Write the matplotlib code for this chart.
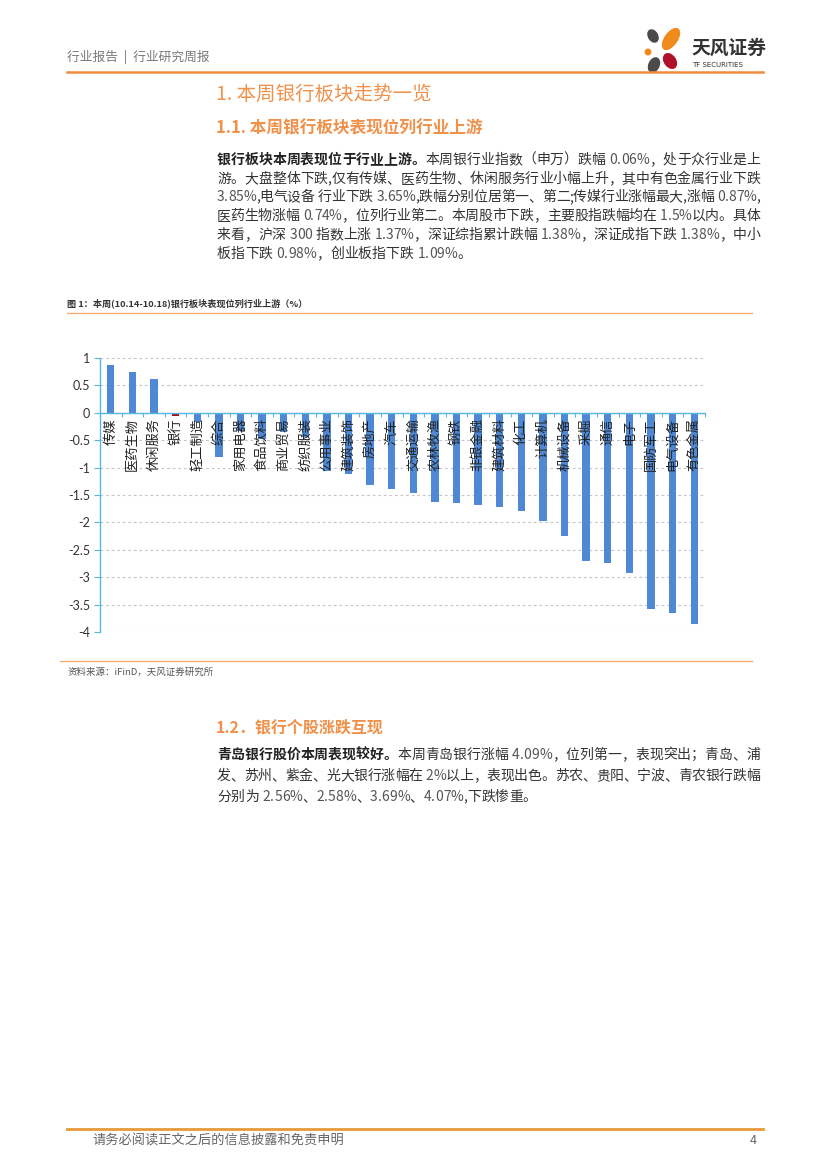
import matplotlib
matplotlib.use('Agg')
import matplotlib.pyplot as plt
from matplotlib.patches import Ellipse
from matplotlib.lines import Line2D

plt.rcParams['font.family'] = ['Noto Sans CJK SC', 'DejaVu Sans']

# ---------------- data ----------------
categories = ['传媒', '医药生物', '休闲服务', '银行', '轻工制造', '综合', '家用电器',
              '食品饮料', '商业贸易', '纺织服装', '公用事业', '建筑装饰', '房地产', '汽车',
              '交通运输', '农林牧渔', '钢铁', '非银金融', '建筑材料', '化工', '计算机',
              '机械设备', '采掘', '通信', '电子', '国防军工', '电气设备', '有色金属']
values = [0.87, 0.74, 0.62, -0.06, -0.16, -0.80, -0.34,
          -0.47, -0.35, -0.45, -1.06, -1.11, -1.31, -1.39,
          -1.47, -1.63, -1.65, -1.69, -1.71, -1.79, -1.98,
          -2.24, -2.71, -2.74, -2.92, -3.58, -3.65, -3.85]
highlight = '银行'
y_ticks = [1, 0.5, 0, -0.5, -1, -1.5, -2, -2.5, -3, -3.5, -4]
y_tick_labels = ['1', '0.5', '0', '-0.5', '-1', '-1.5', '-2', '-2.5', '-3', '-3.5', '-4']

header_text = '行业报告  |  行业研究周报'
title1 = '1. 本周银行板块走势一览'
title11 = '1.1. 本周银行板块表现位列行业上游'
para1 = [
    [('银行板块本周表现位于行业上游。', True), ('本周银行业指数（申万）跌幅 0.06%，处于众行业是上', False)],
    [('游。大盘整体下跌,仅有传媒、医药生物、休闲服务行业小幅上升，其中有色金属行业下跌', False)],
    [('3.85%,电气设备 行业下跌 3.65%,跌幅分别位居第一、第二;传媒行业涨幅最大,涨幅 0.87%,', False)],
    [('医药生物涨幅 0.74%，位列行业第二。本周股市下跌，主要股指跌幅均在 1.5%以内。具体', False)],
    [('来看，沪深 300 指数上涨 1.37%，深证综指累计跌幅 1.38%，深证成指下跌 1.38%，中小', False)],
    [('板指下跌 0.98%，创业板指下跌 1.09%。', False)],
]
caption = '图 1：本周(10.14-10.18)银行板块表现位列行业上游（%）'
source = '资料来源：iFinD，天风证券研究所'
title12 = '1.2．银行个股涨跌互现'
para2 = [
    [('青岛银行股价本周表现较好。', True), ('本周青岛银行涨幅 4.09%，位列第一，表现突出；青岛、浦', False)],
    [('发、苏州、紫金、光大银行涨幅在 2%以上，表现出色。苏农、贵阳、宁波、青农银行跌幅', False)],
    [('分别为 2.56%、2.58%、3.69%、4.07%,下跌惨重。', False)],
]
footer = '请务必阅读正文之后的信息披露和免责申明'
page_no = '4'

# ---------------- page ----------------
W, H = 827, 1169
fig = plt.figure(figsize=(W / 100, H / 100), dpi=100)
fig.patch.set_facecolor('white')


def fx(x):
    return x / W


def fy(y):
    return 1 - y / H


ORANGE = '#EE8B3D'
TITLE_OR = '#F0914A'
LIGHT_OR = '#F4AE73'
BLUE = '#4F88D4'
RED = '#A3111D'
AXIS = '#57B7E3'


def hline(x0, x1, y, color, lw):
    fig.add_artist(Line2D([fx(x0), fx(x1)], [fy(y), fy(y)], color=color, lw=lw,
                          transform=fig.transFigure))


# header
fig.text(fx(67), fy(57), header_text, fontsize=9.2, color='#7A7A7A', va='center', ha='left')
hline(67, 763, 72, ORANGE, 1.8)

# logo
lax = fig.add_axes([fx(639), fy(76), 52 / W, 52 / H])
lax.set_xlim(0, 52)
lax.set_ylim(52, 0)
lax.axis('off')
lax.add_patch(Ellipse((14, 12), 9, 13, angle=-30, color='#4A4A4A'))
lax.add_patch(Ellipse((32, 15), 12, 24, angle=35, color='#F08A1C'))
lax.add_patch(Ellipse((9, 28), 5.5, 5.5, angle=0, color='#F08A1C'))
lax.add_patch(Ellipse((31, 37), 11, 16, angle=-35, color='#B0102A'))
lax.add_patch(Ellipse((15, 41), 10, 15, angle=25, color='#4A4A4A'))
fig.text(fx(691), fy(48), '天风证券', fontsize=13.5, fontweight='bold', color='#333333',
         va='center', ha='left')
fig.text(fx(692), fy(65), 'TF SECURITIES', fontsize=5, color='#333333', va='center',
         ha='left', family=['DejaVu Sans'])

renderer = fig.canvas.get_renderer()


def draw_line(segs, x0, x1, y, size, justify=True):
    items = []
    for txt, bold in segs:
        for ch in txt:
            col = '#222222' if bold else ('#555555' if (ch.isdigit() or ch in '.%') else '#333333')
            t = fig.text(0, fy(y), ch, fontsize=size, color=col,
                         fontweight='bold' if bold else 'normal', va='center', ha='left')
            items.append(t)
    widths = []
    for t in items:
        if t.get_text() == ' ':
            widths.append(size * 0.28 * 100 / 72)
        else:
            widths.append(t.get_window_extent(renderer).width)
    total = sum(widths)
    gap = (x1 - x0 - total) / (len(items) - 1) if (justify and len(items) > 1) else 0
    gap = max(gap, -1.0)
    x = x0
    for t, w in zip(items, widths):
        t.set_x(fx(x))
        x += w + gap


# section 1
fig.text(fx(216), fy(94), title1, fontsize=14, color=TITLE_OR, va='center', ha='left')
fig.text(fx(216), fy(128), title11, fontsize=12, fontweight='bold', color=TITLE_OR,
         va='center', ha='left')
p1_y = [160, 179, 197, 216, 235, 254]
for i, segs in enumerate(para1):
    draw_line(segs, 217, 760, p1_y[i], 10, justify=(i < len(para1) - 1))

# caption
fig.text(fx(67), fy(303), caption, fontsize=6.6, fontweight='bold', color='#333333',
         va='center', ha='left')
hline(67, 752, 313, LIGHT_OR, 1.0)

# ---------------- chart ----------------
ax = fig.add_axes([fx(100), fy(632), (705 - 100) / W, (632 - 358) / H])
xs = list(range(len(categories)))
colors = [RED if c == highlight else BLUE for c in categories]
ax.bar(xs, values, width=0.34, color=colors, zorder=3)
ax.set_xlim(-0.5, len(categories) - 0.5)
ax.set_ylim(-4, 1)
ax.set_yticks(y_ticks)
ax.set_yticklabels(y_tick_labels, family=['Lato', 'DejaVu Sans'])
ax.yaxis.grid(True, linestyle=(0, (2.5, 2.5)), color='#C6C6C6', lw=0.8, zorder=0)
ax.set_axisbelow(True)
for s in ['top', 'right']:
    ax.spines[s].set_visible(False)
ax.spines['left'].set_color(AXIS)
ax.spines['left'].set_linewidth(1.0)
ax.spines['bottom'].set_position(('data', 0))
ax.spines['bottom'].set_color(AXIS)
ax.spines['bottom'].set_linewidth(1.0)
ax.spines['bottom'].set_zorder(4)
ax.set_xticks([i - 0.5 for i in xs] + [len(categories) - 0.5])
ax.set_xticklabels([])
ax.tick_params(axis='x', direction='out', length=3, color=AXIS, width=0.8)
ax.tick_params(axis='y', direction='out', length=4, color=AXIS, width=0.8,
               labelsize=9, labelcolor='#333333', pad=3)
for i, c in enumerate(categories):
    ax.annotate(c, xy=(i, 0), xytext=(0, -4), textcoords='offset points',
                rotation=90, ha='center', va='top', fontsize=9.5, color='#222222',
                zorder=5)

# source
hline(60, 752, 661, LIGHT_OR, 1.0)
fig.text(fx(67), fy(672), source, fontsize=6.8, color='#555555', va='center', ha='left')

# section 1.2
fig.text(fx(216), fy(727), title12, fontsize=11.5, fontweight='bold', color=TITLE_OR,
         va='center', ha='left')
p2_y = [755, 776, 797]
for i, segs in enumerate(para2):
    draw_line(segs, 217, 760, p2_y[i], 10, justify=(i < len(para2) - 1))

# footer
hline(67, 763, 1129, '#E8993A', 2.0)
fig.text(fx(92), fy(1141), footer, fontsize=9.5, color='#666666', va='center', ha='left')
fig.text(fx(757), fy(1141), page_no, fontsize=9, color='#666666', va='center', ha='right')

fig.savefig('out.png', dpi=100, facecolor='white')
